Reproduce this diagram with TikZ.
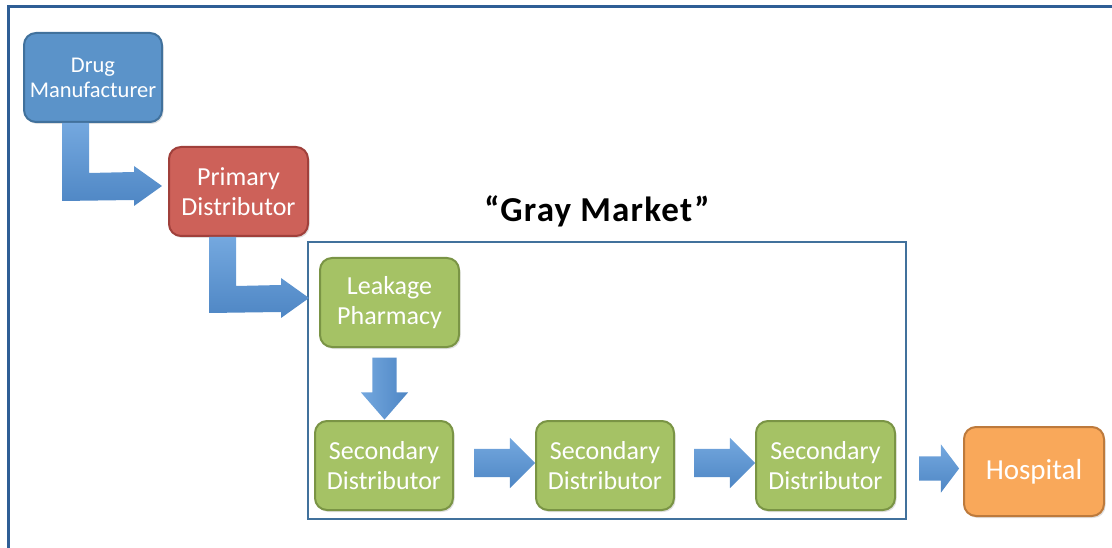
\documentclass[tikz,border=0pt]{standalone}
\usepackage{fontspec}
\setmainfont{Carlito}
\usetikzlibrary{shapes.arrows,shadows,calc}
\definecolor{frameblue}{HTML}{2F5E95}
\definecolor{gmblue}{HTML}{41719C}
\definecolor{bluefill}{HTML}{5B93C9}
\definecolor{blueline}{HTML}{41719C}
\definecolor{redfill}{HTML}{CD6159}
\definecolor{redline}{HTML}{A0403B}
\definecolor{greenfill}{HTML}{A5C265}
\definecolor{greenline}{HTML}{7A9445}
\definecolor{orangefill}{HTML}{F9A85A}
\definecolor{orangeline}{HTML}{BD7A3C}
\definecolor{arrowlight}{HTML}{74A8DF}
\definecolor{arrowdark}{HTML}{4E86C4}
\begin{document}
\begin{tikzpicture}[x=1pt,y=-1pt,
  box/.style={rectangle, rounded corners=12pt, line width=2pt, text=white,
    minimum width=138pt, minimum height=89pt, align=center, inner sep=1pt,
    font=\fontsize{26}{30}\selectfont,
    drop shadow={opacity=0.25, shadow xshift=1.5pt, shadow yshift=-2pt}},
  bluebox/.style={box, fill=bluefill, draw=blueline},
  redbox/.style={box, fill=redfill, draw=redline},
  greenbox/.style={box, fill=greenfill, draw=greenline},
  orangebox/.style={box, fill=orangefill, draw=orangeline},
  blockarrow/.style={single arrow, draw=none, top color=arrowlight, bottom color=arrowdark,
    single arrow head indent=0pt},
  bentarrow/.style={draw=none, top color=arrowlight, bottom color=arrowdark}
]
\useasboundingbox (0,0) rectangle (1112,548);
% outer frame (right and bottom edges lie outside the picture)
\draw[frameblue, line width=3pt] (8,560) -- (8,7) -- (1120,7);

% gray market frame
\node[draw=gmblue, line width=2pt, minimum width=598pt, minimum height=277pt, inner sep=0pt] (gm) at (607,380.5) {};
\node[font=\fontsize{35}{40}\selectfont\bfseries\addfontfeature{LetterSpace=3.5}, anchor=base] (gmtitle) at (597,222) {“Gray Market”};

% boxes
\node[bluebox, font=\fontsize{22.5}{25}\selectfont] (dm) at (93,77.5) {Drug\\Manufacturer};
\node[redbox, minimum width=139pt] (pd) at (238.5,191.5) {Primary\\Distributor};
\node[greenbox, minimum width=139pt] (lp) at (389.5,302.5) {Leakage\\Pharmacy};
\node[greenbox] (s1) at (384,465.5) {Secondary\\Distributor};
\node[greenbox] (s2) at (605,465.5) {Secondary\\Distributor};
\node[greenbox, minimum width=139pt] (s3) at (825.5,465.5) {Secondary\\Distributor};
\node[orangebox, minimum width=140pt, font=\fontsize{29}{32}\selectfont] (ho) at (1034,471.5) {Hospital};

% bent arrows
\coordinate (a1) at ($(dm.south west)+(39,0)$);
\coordinate (a1tip) at ($(pd.west)+(-6,-5.5)$);
\path[bentarrow] (a1) -- ++(27,0) -- ++(0,50) -- ($(a1tip)+(-28,-14)$) -- ++(0,-6) -- (a1tip)
  -- ($(a1tip)+(-28,20)$) -- ++(0,-6) -- ($(a1)+(0,78)$) -- cycle;
\coordinate (a2) at ($(pd.south west)+(41,0)$);
\coordinate (a2tip) at ($(lp.west)+(-10,-4.5)$);
\path[bentarrow] (a2) -- ++(27,0) -- ++(0,49) -- ($(a2tip)+(-28,-13)$) -- ++(0,-7) -- (a2tip)
  -- ($(a2tip)+(-28,20)$) -- ++(0,-6) -- ($(a2)+(0,76)$) -- cycle;

% straight arrows
\node[single arrow, draw=none, left color=arrowlight, right color=arrowdark,
  single arrow head indent=0pt, shape border rotate=270,
  inner sep=12pt, minimum height=62pt, minimum width=47pt,
  single arrow head extend=11.5pt, single arrow tip angle=82] (d1) at ($(lp.south)+(-5,33.5)$) {};
\node[blockarrow, inner sep=14pt, minimum height=61pt, minimum width=50pt,
  single arrow head extend=11pt] (h1) at ($(s1.east)!0.5!(s2.west)+(3,-2.5)$) {};
\node[blockarrow, inner sep=14pt, minimum height=61pt, minimum width=50pt,
  single arrow head extend=11pt] (h2) at ($(s2.east)!0.5!(s3.west)+(2.5,-2.5)$) {};
\node[blockarrow, inner sep=12pt, minimum height=40pt, minimum width=48pt,
  single arrow head extend=12pt, single arrow tip angle=106] (h3) at ($(s3.east)!0.5!(ho.west)+(5,0)$) {};
\end{tikzpicture}
\end{document}
